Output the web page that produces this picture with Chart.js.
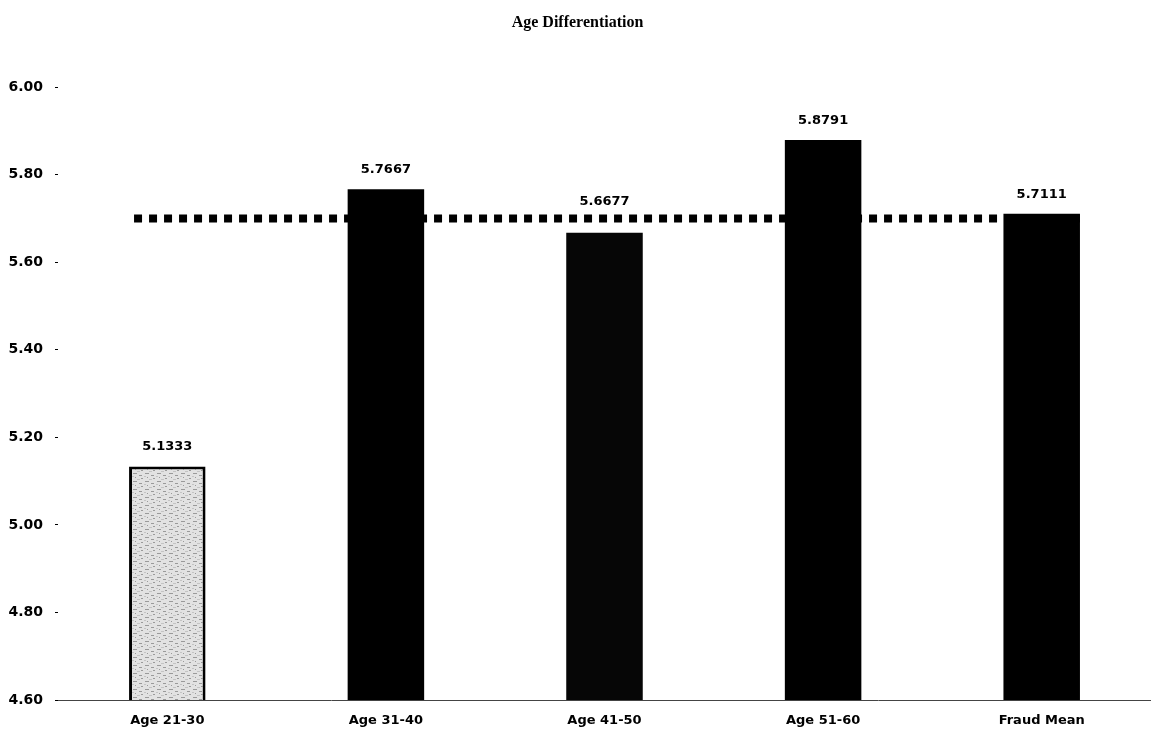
<!DOCTYPE html>
<html>
<head>
<meta charset="utf-8">
<script src="https://cdn.jsdelivr.net/npm/chart.js@4.4.0/dist/chart.umd.min.js"></script>
<style>
  body { margin: 0; background: #fff; }
</style>
</head>
<body>
<canvas id="myChart" width="1151" height="734"></canvas>
<script>
//DATOS
const categorias = ["Age 21-30", "Age 31-40", "Age 41-50", "Age 51-60", "Fraud Mean"];
const valores = [5.1333, 5.7667, 5.6677, 5.8791, 5.7111];
const etiquetas = ["5.1333", "5.7667", "5.6677", "5.8791", "5.7111"];
const lineaMedia = 5.70;
const ticksY = [4.6, 4.8, 5.0, 5.2, 5.4, 5.6, 5.8, 6.0];

const fuente = "'DejaVu Sans', sans-serif";

// textura gris para la primera barra
function crearPatron() {
  const c = document.createElement("canvas");
  c.width = 12;
  c.height = 8;
  const ctx = c.getContext("2d");
  ctx.fillStyle = "#e2e2e2";
  ctx.fillRect(0, 0, 12, 8);
  ctx.fillStyle = "#9a9a9a";
  ctx.fillRect(1, 1, 4, 1);
  ctx.fillRect(7, 3, 3, 1);
  ctx.fillRect(3, 5, 1, 1);
  ctx.fillRect(9, 6, 2, 1);
  ctx.fillStyle = "#c4c4c4";
  ctx.fillRect(5, 7, 3, 1);
  ctx.fillRect(0, 4, 2, 1);
  return c.getContext("2d").createPattern(c, "repeat");
}

const relleno = [crearPatron(), "#000", "#060606", "#000", "#000"];

// linea punteada de la media
const pluginMedia = {
  id: "lineaMedia",
  afterDatasetsDraw(chart) {
    const meta = chart.getDatasetMeta(0);
    const primera = meta.data[0];
    const ultima = meta.data[meta.data.length - 1];
    const y = chart.scales.y.getPixelForValue(lineaMedia);
    const ctx = chart.ctx;
    ctx.save();
    ctx.strokeStyle = "#000";
    ctx.lineWidth = 8;
    ctx.setLineDash([8, 7]);
    ctx.beginPath();
    ctx.moveTo(primera.x - primera.width / 2 + 5, y);
    ctx.lineTo(ultima.x + ultima.width / 2, y);
    ctx.stroke();
    ctx.restore();
  },
};

// etiquetas de valores sobre las barras (por encima de la linea si chocan)
const pluginEtiquetas = {
  id: "etiquetas",
  afterDraw(chart) {
    const meta = chart.getDatasetMeta(0);
    const yLinea = chart.scales.y.getPixelForValue(lineaMedia);
    const ctx = chart.ctx;
    ctx.save();
    ctx.fillStyle = "#000";
    ctx.font = "bold 13px " + fuente;
    ctx.textAlign = "center";
    ctx.textBaseline = "bottom";
    meta.data.forEach((bar, i) => {
      let yTexto = bar.y - 13;
      const cerca = bar.y > yLinea && bar.y - yLinea < 40;
      if (cerca) {
        yTexto = yLinea - 10;
      }
      ctx.fillText(etiquetas[i], bar.x, yTexto);
    });
    ctx.restore();
  },
};

const data = {
  labels: categorias,
  datasets: [
    {
      label: "Age",
      data: valores,
      backgroundColor: relleno,
      borderColor: "#000",
      borderWidth: [3, 0, 0, 0, 0],
      borderSkipped: false,
      categoryPercentage: 1,
      barPercentage: 0.35,
    },
  ],
};

const config = {
  type: "bar",
  data: data,
  plugins: [pluginMedia, pluginEtiquetas],
  options: {
    responsive: false,
    animation: false,
    layout: { padding: { left: 4, right: 0, top: 0, bottom: 0 } },
    plugins: {
      legend: { display: false },
      tooltip: { enabled: false },
      title: {
        display: true,
        text: "Age Differentiation",
        color: "#000",
        font: { family: "'Liberation Serif', 'Times New Roman', serif", weight: "bold", size: 16 },
        padding: { top: 13, bottom: 55 },
      },
    },
    scales: {
      x: {
        offset: true,
        afterFit(scale) {
          scale.height = 34;
        },
        grid: { display: false, drawTicks: false },
        border: { display: true, color: "#444", width: 1 },
        ticks: {
          color: "#000",
          padding: 13,
          font: { family: fuente, weight: "bold", size: 13 },
        },
      },
      y: {
        min: 4.6,
        max: 6.0,
        afterFit(scale) {
          scale.width = 54;
        },
        afterBuildTicks(scale) {
          scale.ticks = ticksY.map((v) => ({ value: v }));
        },
        grid: { drawOnChartArea: false, drawTicks: true, tickLength: 3, color: "#000" },
        border: { display: false },
        ticks: {
          color: "#000",
          padding: 12,
          font: { family: fuente, weight: "bold", size: 14 },
          callback: (v) => Number(v).toFixed(2),
        },
      },
    },
  },
};

const myChart = new Chart(document.getElementById("myChart"), config);
</script>
</body>
</html>
